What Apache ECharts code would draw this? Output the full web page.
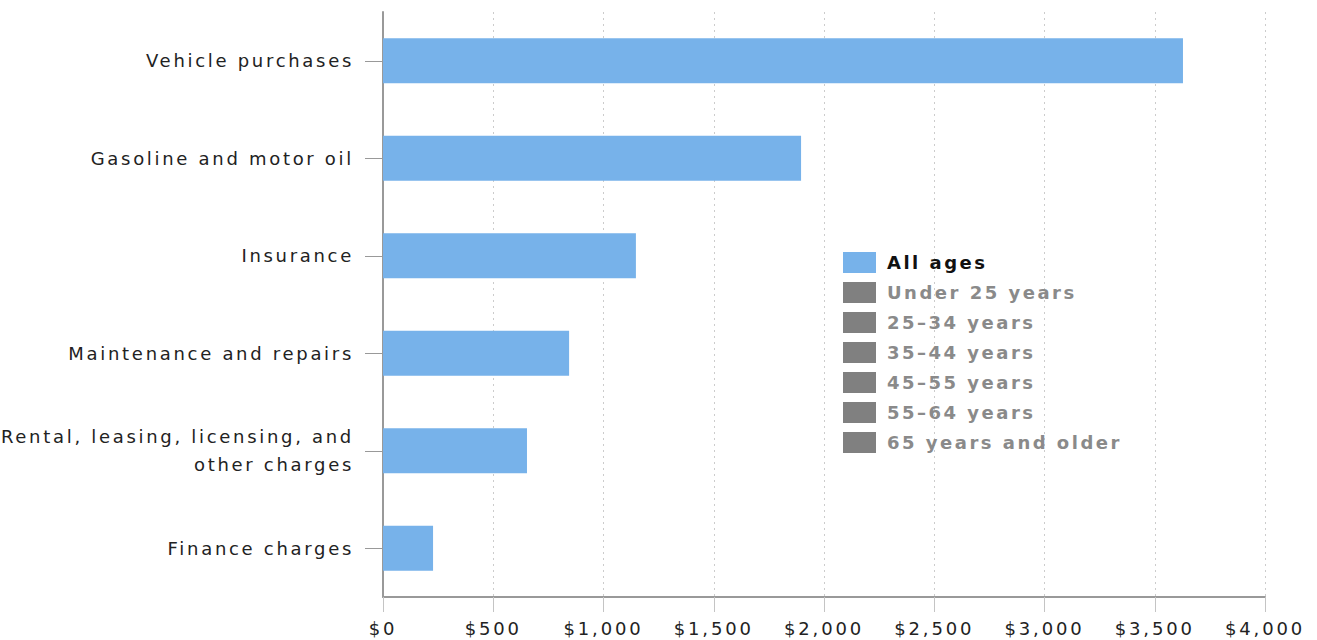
<!DOCTYPE html>
<html>
<head>
<meta charset="utf-8">
<script src="https://cdn.jsdelivr.net/npm/echarts@6/dist/echarts.min.js"></script>
<style>
  html, body { margin: 0; padding: 0; background: #fff; }
  #chart { width: 1317px; height: 640px; }
  /* the source picture is stretched sideways, so spread the glyphs out */
  #chart text[text-anchor="end"] { letter-spacing: 2.7px; }
  #chart text[text-anchor="middle"] { letter-spacing: 2.8px; }
  #chart text[text-anchor="start"] { letter-spacing: 2.5px; }
</style>
</head>
<body>
<div id="chart"></div>
<script>
// spending categories, top to bottom
var categories = [
  'Vehicle purchases',
  'Gasoline and motor oil',
  'Insurance',
  'Maintenance and repairs',
  'Rental, leasing, licensing, and\nother charges',
  'Finance charges'
];
// All ages values (dollars)
var allAges = [3628, 1896, 1147, 844, 653, 227];
// legend groups that have no bars shown
var ageGroups = ['Under 25 years', '25\u201334 years', '35\u201344 years', '45\u201355 years', '55\u201364 years', '65 years and older'];

var myChart = echarts.init(document.getElementById('chart'), null, { renderer: 'svg' });

var series = [{
  name: 'All ages',
  type: 'bar',
  data: allAges,
  barWidth: 45,
  barGap: '-100%',
  itemStyle: { color: '#77b2ea' }
}];
for (var i = 0; i < ageGroups.length; i++) {
  series.push({
    name: ageGroups[i],
    type: 'bar',
    data: [],
    barWidth: 45,
    barGap: '-100%',
    itemStyle: { color: '#808080' }
  });
}

var legendData = [{ name: 'All ages', textStyle: { color: '#111' } }];
for (var i = 0; i < ageGroups.length; i++) {
  legendData.push({ name: ageGroups[i], textStyle: { color: '#8a8a8a' } });
}

var option = {
  animation: false,
  grid: { left: 383, right: 52, top: 12, bottom: 43 },
  legend: {
    orient: 'vertical',
    left: 838,
    top: 247,
    itemWidth: 33,
    itemHeight: 21,
    itemGap: 9,
    icon: 'rect',
    selectedMode: false,
    data: legendData,
    textStyle: { fontSize: 18, fontWeight: 'bold', fontFamily: 'DejaVu Sans', padding: [0, 0, 0, 6] }
  },
  xAxis: {
    type: 'value',
    min: 0,
    max: 4000,
    interval: 500,
    axisLine: { show: true, lineStyle: { color: '#999', width: 2 } },
    axisTick: { show: true, length: 15, lineStyle: { color: '#c4c4c4' } },
    splitLine: { show: true, lineStyle: { color: '#ccc', type: [2, 4] } },
    axisLabel: {
      margin: 22,
      color: '#222',
      fontSize: 18,
      fontFamily: 'DejaVu Sans',
      formatter: function (v) { return '$' + v.toLocaleString('en-US'); }
    }
  },
  yAxis: {
    type: 'category',
    inverse: true,
    data: categories,
    axisLine: { show: true, lineStyle: { color: '#999', width: 2 } },
    axisTick: { show: true, alignWithLabel: true, length: 18, lineStyle: { color: '#999' } },
    axisLabel: {
      margin: 29,
      color: '#222',
      fontSize: 18,
      lineHeight: 28,
      align: 'right',
      fontFamily: 'DejaVu Sans'
    }
  },
  series: series
};

myChart.setOption(option);
</script>
</body>
</html>
